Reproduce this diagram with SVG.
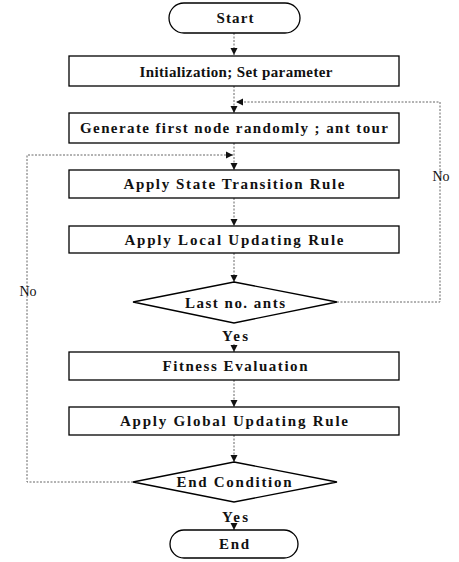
<svg xmlns="http://www.w3.org/2000/svg" width="459" height="562" viewBox="0 0 459 562">
<style>
  .box{fill:#fff;stroke:#000;stroke-width:1.3}
  .t{font-family:"Liberation Serif","Times New Roman",serif;font-size:15px;font-weight:bold;fill:#111;text-anchor:middle;dominant-baseline:central}
  .lbl{font-family:"Liberation Serif","Times New Roman",serif;font-size:14px;fill:#111;text-anchor:middle;dominant-baseline:central}
  .c{fill:none;stroke:#666;stroke-width:1;stroke-dasharray:2 1.5}
</style>
<defs>
  <marker id="ah" markerWidth="8" markerHeight="8" refX="7" refY="4" orient="auto" markerUnits="userSpaceOnUse">
    <path d="M0,0.5 L7,4 L0,7.5 Z" fill="#111"/>
  </marker>
</defs>
<rect width="459" height="562" fill="#fff"/>
<g id="connectors">
  <line class="c" x1="234" y1="33" x2="234" y2="55" marker-end="url(#ah)"/>
  <line class="c" x1="234" y1="86" x2="234" y2="113" marker-end="url(#ah)"/>
  <line class="c" x1="234" y1="143" x2="234" y2="170" marker-end="url(#ah)"/>
  <line class="c" x1="234" y1="198" x2="234" y2="226" marker-end="url(#ah)"/>
  <line class="c" x1="234" y1="253" x2="234" y2="282" marker-end="url(#ah)"/>
  <line class="c" x1="234" y1="344" x2="234" y2="352" marker-end="url(#ah)"/>
  <line class="c" x1="234" y1="380" x2="234" y2="407" marker-end="url(#ah)"/>
  <line class="c" x1="234" y1="435" x2="234" y2="462" marker-end="url(#ah)"/>
  <line class="c" x1="234" y1="525" x2="234" y2="530" marker-end="url(#ah)"/>
  <polyline class="c" points="337,302 440,302 440,102 236,102" marker-end="url(#ah)"/>
  <polyline class="c" points="133,482 27,482 27,155 233,155" marker-end="url(#ah)"/>
  <text class="lbl" x="441" y="176">No</text>
  <text class="lbl" x="28" y="291">No</text>
  <text class="t" x="235" y="336" textLength="26" lengthAdjust="spacing">Yes</text>
  <text class="t" x="235" y="517" textLength="26" lengthAdjust="spacing">Yes</text>
</g>
<g id="start">
  <rect class="box" x="169" y="3" width="131" height="30" rx="15" ry="15"/>
  <text class="t" x="235" y="18" textLength="37" lengthAdjust="spacing">Start</text>
</g>
<g id="init">
  <rect class="box" x="69" y="56" width="330" height="30"/>
  <text class="t" x="236" y="72" textLength="193" lengthAdjust="spacing">Initialization; Set parameter</text>
</g>
<g id="generate">
  <rect class="box" x="69" y="113" width="330" height="30"/>
  <text class="t" x="234" y="128" textLength="308" lengthAdjust="spacing">Generate first node randomly ; ant tour</text>
</g>
<g id="state">
  <rect class="box" x="69" y="170" width="330" height="28"/>
  <text class="t" x="234" y="184" textLength="221" lengthAdjust="spacing">Apply State Transition Rule</text>
</g>
<g id="local">
  <rect class="box" x="69" y="226" width="330" height="27"/>
  <text class="t" x="234" y="240" textLength="219" lengthAdjust="spacing">Apply Local Updating Rule</text>
</g>
<g id="lastants">
  <polygon class="box" points="234,282 337,302 234,323 133,302"/>
  <text class="t" x="235" y="303" textLength="100" lengthAdjust="spacing">Last no. ants</text>
</g>
<g id="fitness">
  <rect class="box" x="69" y="352" width="330" height="28"/>
  <text class="t" x="235" y="366" textLength="145" lengthAdjust="spacing">Fitness Evaluation</text>
</g>
<g id="global">
  <rect class="box" x="69" y="407" width="330" height="28"/>
  <text class="t" x="234" y="421" textLength="228" lengthAdjust="spacing">Apply Global Updating Rule</text>
</g>
<g id="endcond">
  <polygon class="box" points="234,462 337,482 234,502 133,482"/>
  <text class="t" x="234" y="482" textLength="115" lengthAdjust="spacing">End Condition</text>
</g>
<g id="end">
  <rect class="box" x="170" y="530" width="128" height="28" rx="14" ry="14"/>
  <text class="t" x="234" y="544" textLength="30" lengthAdjust="spacing">End</text>
</g>
</svg>
